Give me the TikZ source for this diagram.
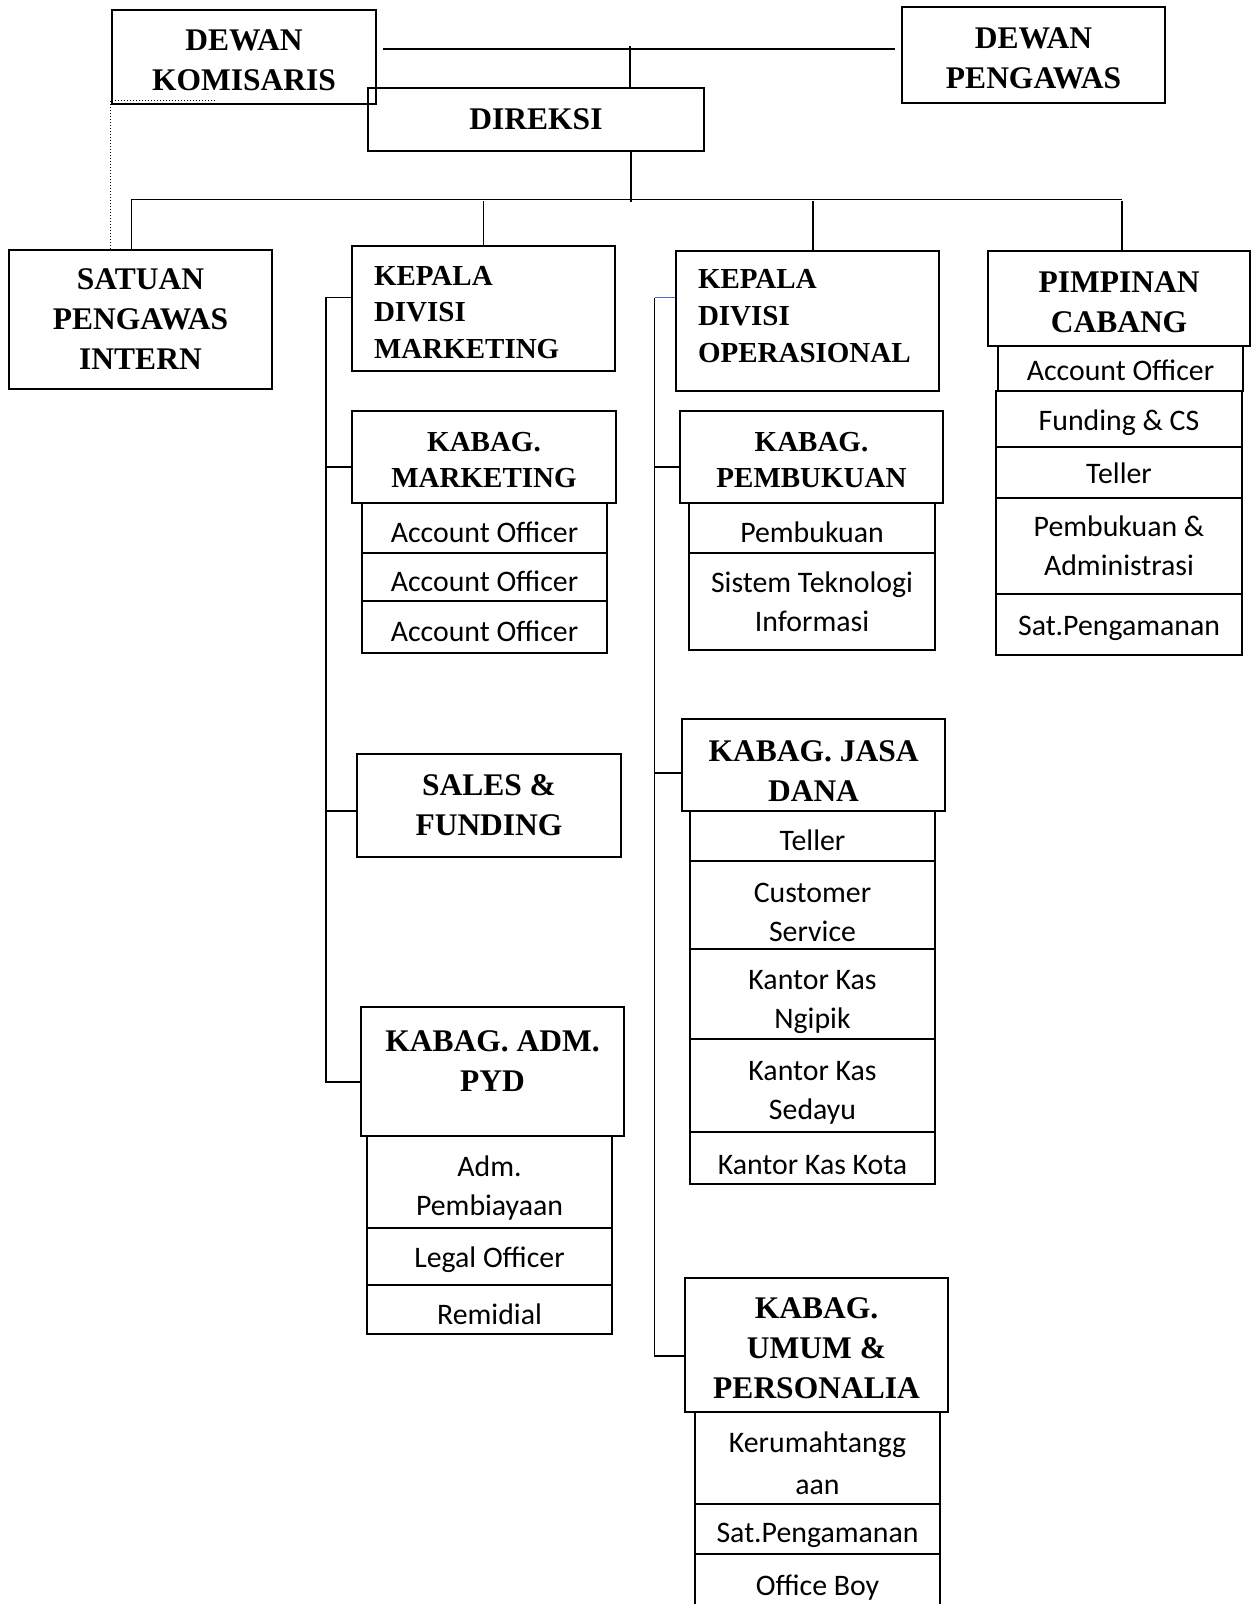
\documentclass[tikz,border=0pt]{standalone}
\usepackage{fontspec}
\setmainfont{Liberation Serif}
\newfontfamily\calibri{Carlito}
\usetikzlibrary{calc}
\definecolor{linkblue}{RGB}{68,114,196}
\def\orgbox[#1](#2)(#3,#4)(#5,#6)#7{\node[#1, minimum width={(#5-#3)*0.5pt}, minimum height={(#6-#4)*0.5pt}] (#2) at ({(#3+#5)/2},{(#4+#6)/2}) {#7};}
\tikzset{
  headbox/.style={draw, line width=1.2pt, inner sep=0pt, align=center, font=\bfseries\fontsize{15.75}{20}\selectfont},
  headleft/.style={draw, line width=1.2pt, inner ysep=0pt, inner xsep=11pt, text width=109.5pt, align=left, font=\bfseries\fontsize{14.5}{18.4}\selectfont},
  subhead/.style={headbox, text height=30.5pt, font=\bfseries\fontsize{14.5}{18}\selectfont},
  unitbox/.style={draw, line width=1pt, inner sep=0pt, align=center, text height=15pt, font=\calibri\fontsize{14.9}{19.5}\selectfont},
  unitpair/.style={unitbox, text height=36pt},
  link/.style={line width=0.65pt},
}

\begin{document}
\begin{tikzpicture}[x=0.5pt, y=-0.5pt]
			\useasboundingbox (0,0) rectangle (1259,1604);
			%%%%% TOP %%%%%
			
			\orgbox[headbox, text height=33.5pt](dk)(112,10)(376,104){DEWAN\\KOMISARIS}
			\orgbox[headbox, text height=33.5pt](dp)(902,7)(1165,103){DEWAN\\PENGAWAS}
			\orgbox[headbox](dir)(368,88)(704,151){DIREKSI}
			
			\coordinate (link) at (630,49);
			\coordinate (bus) at (631,199.5);
			
			%%%%% SECOND ROW %%%%%
			
			\orgbox[headbox](spi)(9,250)(272,389){SATUAN\\PENGAWAS\\INTERN}
			\orgbox[headleft, text height=13.5pt](kdm)(352,246)(615,371){KEPALA\\DIVISI\\MARKETING}
			\orgbox[headleft, text depth=41.8pt](kdo)(676,251)(939,391){KEPALA\\DIVISI\\OPERASIONAL}
			\orgbox[headbox, text height=34.3pt](pc)(988,251)(1250,346){PIMPINAN\\CABANG}
			
			\orgbox[unitbox, text height=12.4pt](pc1)(998,346)(1243,391){Account Officer}
			\orgbox[unitbox, text height=14.4pt](pc2)(996,391)(1242,447){Funding \& CS}
			\orgbox[unitbox, text height=11pt](pc3)(996,447)(1242,498){Teller}
			\orgbox[unitpair, text height=30pt](pc4)(996,498)(1242,594){Pembukuan \&\\Administrasi}
			\orgbox[unitbox, text height=13.4pt](pc5)(996,594)(1242,655){Sat.Pengamanan}
			
			%%%%% MARKETING %%%%%
			
			\orgbox[subhead](kmk)(352,411)(616,503){KABAG.\\MARKETING}
			\orgbox[unitbox](ao1)(362,503)(607,553){Account Officer}
			\orgbox[unitbox](ao2)(362,553)(607,601){Account Officer}
			\orgbox[unitbox](ao3)(362,601)(607,653){Account Officer}
			
			\orgbox[headbox](sf)(357,754)(621,857){SALES \&\\FUNDING}
			
			\orgbox[headbox, text depth=10pt](kpyd)(361,1007)(624,1136){KABAG. ADM.\\PYD}
			\orgbox[unitpair](pyd1)(367,1136)(612,1228){Adm.\\Pembiayaan}
			\orgbox[unitbox, text height=13.4pt](pyd2)(367,1228)(612,1285){Legal Officer}
			\orgbox[unitbox](pyd3)(367,1285)(612,1334){Remidial}
			
			%%%%% OPERASIONAL %%%%%
			
			\orgbox[subhead](kpb)(680,411)(943,503){KABAG.\\PEMBUKUAN}
			\orgbox[unitbox, text height=14.4pt](pb1)(689,503)(935,553){Pembukuan}
			\orgbox[unitpair, text height=30pt](pb2)(689,553)(935,650){Sistem Teknologi\\Informasi}
			
			\orgbox[headbox, text height=36.3pt](kjd)(682,719)(945,811){KABAG. JASA\\DANA}
			\orgbox[unitbox](jd1)(690,811)(935,861){Teller}
			\orgbox[unitpair, text height=37pt](jd2)(690,861)(935,949){Customer\\Service}
			\orgbox[unitpair, text height=37.5pt](jd3)(690,949)(935,1039){Kantor Kas\\Ngipik}
			\orgbox[unitpair](jd4)(690,1039)(935,1132){Kantor Kas\\Sedayu}
			\orgbox[unitbox, text height=16.4pt](jd5)(690,1132)(935,1184){Kantor Kas Kota}
			
			\orgbox[headbox, text height=53.3pt](kum)(685,1278)(948,1412){KABAG.\\UMUM \&\\PERSONALIA}
			\orgbox[unitpair, text height=36.4pt, font=\calibri\fontsize{14.9}{21}\selectfont](um1)(695,1412)(940,1504){Kerumahtangg\\aan}
			\orgbox[unitbox, text height=16.4pt](um2)(695,1504)(940,1554){Sat.Pengamanan}
			\orgbox[unitbox, text height=14.4pt](um3)(695,1554)(940,1612){Office Boy}
			
			%%%%% LINES %%%%%
			
			\draw[link] ([xshift=3pt]dk.east |- link) -- ([xshift=-3pt]dp.west |- link);
			\draw[link] ([yshift=1.5pt]link) -- (link |- dir.north);
			\draw[link] (bus |- dir.south) -- ([yshift=-1.5pt]bus);
			\draw[link] ([xshift=-4.5pt]spi.north |- bus) -- ([xshift=1.5pt]pc.north |- bus);
			\draw[link] ([xshift=-4.5pt]spi.north |- bus) -- ([xshift=-4.5pt]spi.north);
			\draw[link] ([yshift=-1pt]bus -| kdm.north) -- (kdm.north);
			\draw[link] ([yshift=-1pt,xshift=2.75pt]bus -| kdo.north) -- ([xshift=2.75pt]kdo.north);
			\draw[link] ([yshift=-1pt,xshift=1.5pt]bus -| pc.north) -- ([xshift=1.5pt]pc.north);
			
			\draw[densely dotted, line width=0.5pt] ([xshift=52pt,yshift=2.5pt]dk.south west) -- ([yshift=2.5pt]dk.south west) -- (dk.south west |- spi.north);
			
			\coordinate (railm) at (326,0);
			\draw[link] ([yshift=5.5pt]kdm.west) -- ([yshift=5.5pt]kdm.west -| railm) -- ([yshift=-5.25pt]kpyd.west -| railm) -- ([yshift=-5.25pt]kpyd.west);
			\draw[link] ([yshift=-5pt]kmk.west -| railm) -- ([yshift=-5pt]kmk.west);
			\draw[link] ([yshift=-2.75pt]sf.west -| railm) -- ([yshift=-2.75pt]sf.west);
			
			\coordinate (railo) at (654.5,0);
			\draw[link] ([yshift=11.7pt]kdo.west -| railo) -- ([yshift=-5.5pt]kum.west -| railo) -- ([yshift=-5.5pt]kum.west);
			\draw[link, linkblue] ([yshift=11.7pt]kdo.west -| railo) -- ([yshift=11.7pt]kdo.west);
			\draw[link] ([yshift=-5pt]kpb.west -| railo) -- ([yshift=-5pt]kpb.west);
			\draw[link] ([yshift=-4pt]kjd.west -| railo) -- ([yshift=-4pt]kjd.west);
			
			%%%%% END %%%%%
\end{tikzpicture}
\end{document}
